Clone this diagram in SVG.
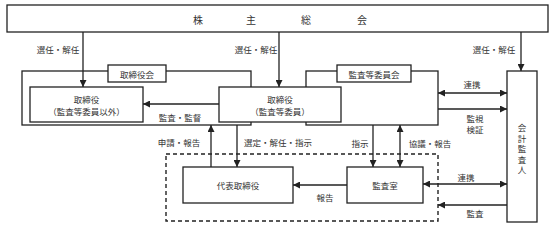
<svg xmlns="http://www.w3.org/2000/svg" width="560" height="227" viewBox="0 0 560 227">
<defs>
<style>
.box{fill:#fff;stroke:#222;stroke-width:1.3}
.dash{fill:none;stroke:#222;stroke-width:1.4;stroke-dasharray:4 3}
.ln{fill:none;stroke:#222;stroke-width:1.3}
text{font-family:"Noto Sans CJK JP","Noto Sans CJK SC",sans-serif;font-size:8.5px;fill:#333;text-anchor:middle;dominant-baseline:central}
.title{font-size:10px}
</style>
<marker id="ah" viewBox="0 0 10 10" refX="10" refY="5" markerWidth="7" markerHeight="7" orient="auto-start-reverse" markerUnits="userSpaceOnUse">
<path d="M0,0 L10,5 L0,10 z" fill="#222"/>
</marker>
</defs>
<rect width="560" height="227" fill="#fff"/>

<g id="shareholders">
<rect class="box" x="7" y="5" width="541" height="27"/>
<text class="title" x="198" y="19">株</text>
<text class="title" x="251" y="19">主</text>
<text class="title" x="306" y="19">総</text>
<text class="title" x="362" y="19">会</text>
</g>

<g id="board-group">
<rect class="box" x="22" y="71" width="229" height="54"/>
<rect class="box" x="108" y="65" width="58" height="17"/>
<text x="137" y="73.5">取締役会</text>
</g>

<g id="audit-committee-group">
<rect class="box" x="306" y="71" width="132" height="54"/>
<rect class="box" x="337" y="65" width="74" height="17"/>
<text x="374" y="73.5">監査等委員会</text>
</g>

<g id="directors-other">
<rect class="box" x="30" y="87" width="113" height="35"/>
<text x="86.5" y="99">取締役</text>
<text x="86.5" y="111">（監査等委員以外）</text>
</g>

<g id="directors-audit">
<rect class="box" x="219" y="87" width="122" height="35"/>
<text x="280" y="99">取締役</text>
<text x="280" y="111">（監査等委員）</text>
</g>

<g id="accounting-auditor">
<rect class="box" x="507" y="71" width="30" height="151"/>
<text x="522" y="127">会</text>
<text x="522" y="137.5">計</text>
<text x="522" y="148">監</text>
<text x="522" y="158.5">査</text>
<text x="522" y="169">人</text>
</g>

<g id="internal-area">
<rect class="dash" x="166" y="154" width="272" height="67"/>
</g>

<g id="representative">
<rect class="box" x="183" y="167" width="110" height="36"/>
<text x="238" y="185">代表取締役</text>
</g>

<g id="audit-office">
<rect class="box" x="347" y="167" width="76" height="36"/>
<text x="385" y="185">監査室</text>
</g>

<g id="connectors">
<line class="ln" x1="83" y1="32" x2="83" y2="87" marker-end="url(#ah)"/>
<line class="ln" x1="279" y1="32" x2="279" y2="87" marker-end="url(#ah)"/>
<line class="ln" x1="521" y1="32" x2="521" y2="71" marker-end="url(#ah)"/>
<line class="ln" x1="219" y1="104" x2="143" y2="104" marker-end="url(#ah)"/>
<line class="ln" x1="438" y1="93" x2="507" y2="93" marker-start="url(#ah)" marker-end="url(#ah)"/>
<line class="ln" x1="438" y1="109" x2="507" y2="109" marker-end="url(#ah)"/>
<line class="ln" x1="211" y1="167" x2="211" y2="125" marker-end="url(#ah)"/>
<line class="ln" x1="237" y1="125" x2="237" y2="167" marker-end="url(#ah)"/>
<line class="ln" x1="373" y1="125" x2="373" y2="167" marker-end="url(#ah)"/>
<line class="ln" x1="400" y1="125" x2="400" y2="167" marker-start="url(#ah)" marker-end="url(#ah)"/>
<line class="ln" x1="347" y1="185" x2="293" y2="185" marker-end="url(#ah)"/>
<line class="ln" x1="423" y1="184" x2="507" y2="184" marker-start="url(#ah)" marker-end="url(#ah)"/>
<line class="ln" x1="507" y1="205" x2="438" y2="205" marker-end="url(#ah)"/>
<text x="58" y="49">選任・解任</text>
<text x="256" y="49">選任・解任</text>
<text x="494" y="49">選任・解任</text>
<text x="180" y="117">監査・監督</text>
<text x="472" y="84">連携</text>
<text x="475" y="118">監視</text>
<text x="475" y="129">検証</text>
<text x="179" y="142">申請・報告</text>
<text x="278" y="142">選定・解任・指示</text>
<text x="360" y="143">指示</text>
<text x="430" y="143">協議・報告</text>
<text x="325" y="197">報告</text>
<text x="466" y="177">連携</text>
<text x="475" y="213">監査</text>
</g>
</svg>
